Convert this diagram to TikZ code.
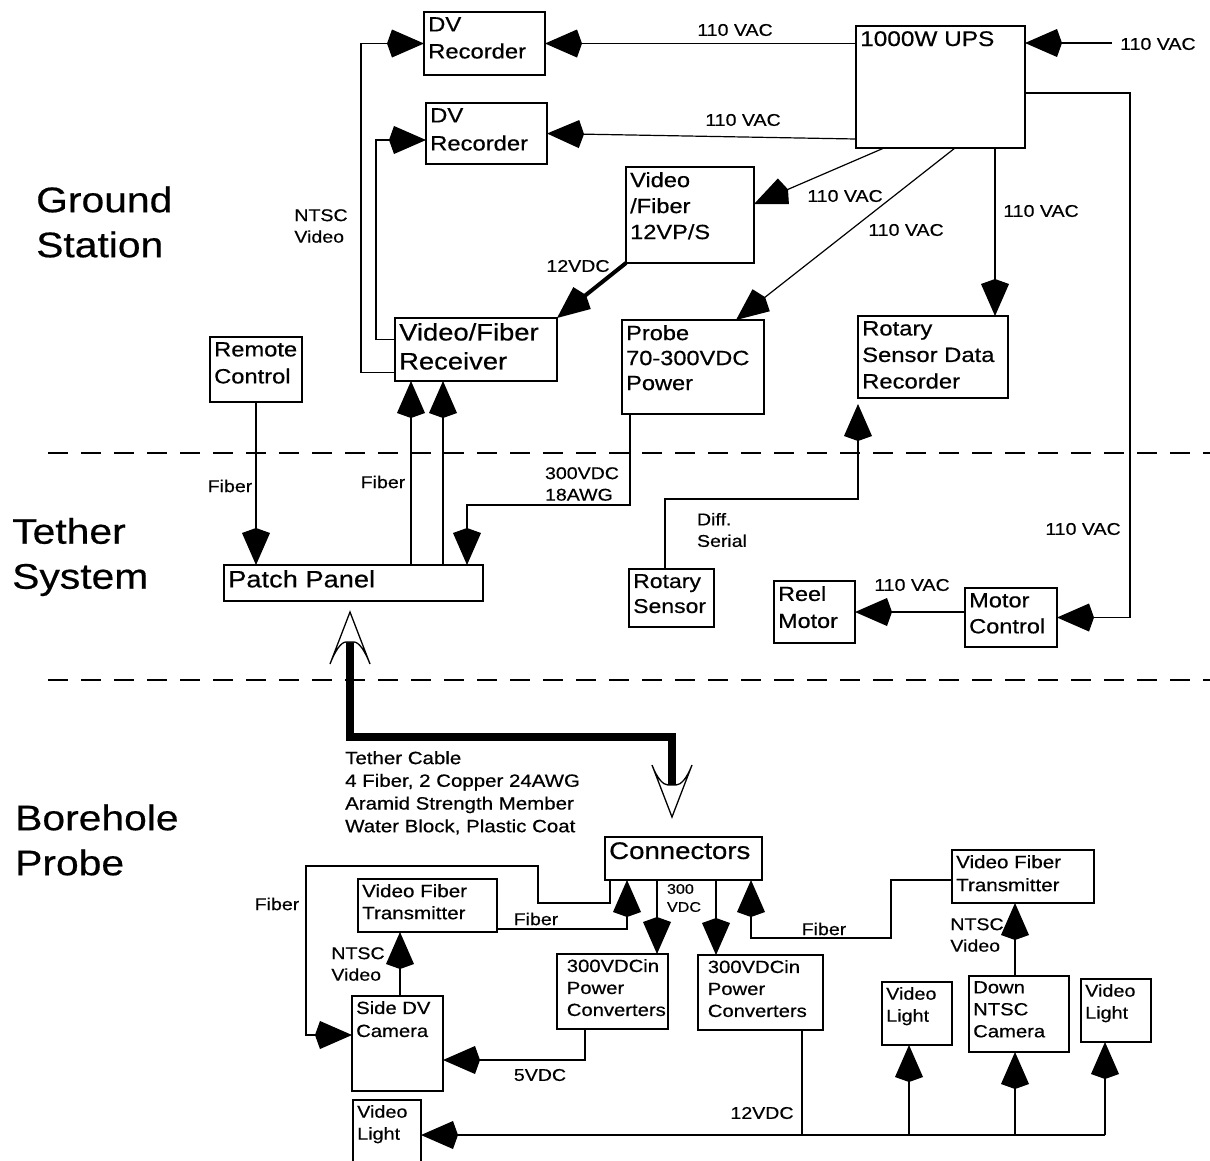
\documentclass[tikz,border=0pt]{standalone}
\usepackage{fontspec}
\setmainfont{Liberation Sans}[FakeStretch=1.15, FakeBold=0.5]
\usetikzlibrary{arrows.meta,calc}
\newcommand\fs[2]{\fontsize{#1}{#2}\selectfont}
% name, x1, y1, x2, y2, font size, baselineskip, text
\newcommand\bx[8]{%
  \node[boxs, minimum width={#4pt-#2pt}, minimum height={#5pt-#3pt}, anchor=north west] (#1) at (#2,#3) {};
  \node[btext, font=\fs{#6}{#7}] at (#1.north west) {#8};
}
\begin{document}
\begin{tikzpicture}[x=1pt,y=-1pt,
  boxs/.style={draw, line width=1.3pt, inner sep=0pt, outer sep=0pt},
  btext/.style={anchor=north west, align=left, inner xsep=4pt, inner ysep=5pt},
  lab/.style={font=\fs{17}{21.5}, inner sep=0pt, align=left},
  sec/.style={font=\fs{35.5}{45}, inner sep=0pt, align=left, anchor=west},
  conn/.style={line width=1.2pt},
  headtip/.tip={Kite[length=37pt,width=28pt,inset=5pt]},
  arr/.style={conn, -headtip},
  sepline/.style={line width=2.5pt, dash pattern=on 20pt off 13pt}]
\useasboundingbox (0,0) rectangle (1210,1160);
\fill[white] (0,0) rectangle (1210,1160);

% section labels
\node[sec] (gs) at (36,222) {Ground\\Station};
\node[sec] (ts) at (12,557) {Tether\\System};
\node[sec] (bp) at (15,840) {Borehole\\Probe};
\draw[sepline] (48,453) -- (1210,453);
\draw[sepline] (48,680) -- (1210,680);

% boxes
\bx{dv1}{424}{12}{545}{75}{20.7}{27}{DV\\Recorder}
\bx{dv2}{426}{103}{547}{164}{20.7}{28}{DV\\Recorder}
\bx{ups}{856}{26}{1025}{148}{21.2}{26}{1000W UPS}
\bx{vfps}{626}{167}{754}{263}{20.5}{26}{Video\\/Fiber\\12VP/S}
\bx{rcv}{395}{318}{557}{381}{23.8}{29}{Video/Fiber\\Receiver}
\bx{rc}{210}{337}{302}{402}{20.6}{27}{Remote\\Control}
\bx{ppw}{622}{320}{764}{414}{20.5}{25}{Probe\\70-300VDC\\Power}
\bx{rsdr}{858}{316}{1008}{398}{20.7}{26.5}{Rotary\\Sensor Data\\Recorder}
\bx{pp}{224}{565}{483}{601}{23.7}{28}{Patch Panel}
\bx{rs}{629}{569}{714}{627}{20}{25}{Rotary\\Sensor}
\bx{rm}{774}{581}{855}{643}{20.3}{27}{Reel\\Motor}
\bx{mc}{965}{588}{1057}{647}{20.5}{26}{Motor\\Control}
\bx{con}{605}{837}{762}{880}{24}{28}{Connectors}
\bx{vftl}{358}{879}{497}{932}{17.9}{22}{Video Fiber\\Transmitter}
\bx{sdv}{352}{996}{443}{1091}{17.6}{23}{Side DV\\Camera}
\bx{vla}{353}{1100}{421}{1166}{17.2}{22}{Video\\Light}
\bx{pca}{557}{954}{668}{1029}{17.6}{22}{\ 300VDCin\\\ Power\\\ Converters}
\bx{pcb}{698}{955}{823}{1030}{17.6}{22}{\ 300VDCin\\\ Power\\\ Converters}
\bx{vftr}{952}{850}{1094}{903}{17.9}{23}{Video Fiber\\Transmitter}
\bx{vlb}{882}{982}{952}{1045}{17.2}{22}{Video\\Light}
\bx{dnc}{969}{976}{1069}{1052}{17.6}{22}{Down\\NTSC\\Camera}
\bx{vlc}{1081}{979}{1151}{1042}{17.2}{22}{Video\\Light}
\draw[line width=2.6pt] (ups.north west) rectangle (ups.south east);
\draw[line width=2.3pt] (vfps.north west) rectangle (vfps.south east);
\draw[line width=2.1pt] (rc.north west) rectangle (rc.south east);

% ground station connectors
\draw[arr] (ups.west |- dv1.east) -- (dv1.east);
\node[lab] (l1) at (735,30) {110 VAC};
\draw[arr] ([yshift=9pt]ups.south west) -- (dv2.east);
\node[lab] (l2) at (743,120) {110 VAC};
\coordinate (acin) at (1112,43);
\draw[arr] (acin) -- (ups.east |- acin);
\node[lab, anchor=west] (l3) at (1120,44) {110 VAC};
\draw[arr] ([xshift=28pt]ups.south west) -- ([yshift=11pt]vfps.east);
\node[lab] (l4) at (845,196) {110 VAC};
\draw[arr] ([xshift=99pt]ups.south west) -- ([xshift=43pt]ppw.north);
\node[lab] (l5) at (906,230) {110 VAC};
\draw[arr] ([xshift=-30pt]ups.south east) -- ([xshift=-30pt]ups.south east |- rsdr.north);
\node[lab] (l6) at (1041,211) {110 VAC};
\draw[arr] ([yshift=-6pt]ups.east) -- ++(105,0) |- (mc.east);
\node[lab] (l7) at (1083,529) {110 VAC};
\draw[arr, line width=2pt] (mc.west |- rm.east) -- (rm.east);
\node[lab] (l8) at (912,585) {110 VAC};
\draw[line width=4pt, -headtip] (vfps.south west) -- (rcv.north east);
\node[lab] (l9) at (578,266) {12VDC};
\draw[arr] ([yshift=-23pt]rcv.west) -- ++(-34,0) |- (dv1.west);
\draw[arr] ([yshift=10pt]rcv.west) -- ++(-19,0) |- ([yshift=-6.5pt]dv2.west);
\node[lab] (l10) at (321,226) {NTSC\\Video};

% tether system connectors
\draw[arr] (rc.south) -- (rc.south |- pp.north);
\node[lab] (l11) at (230,486) {Fiber};
\draw[arr] ([xshift=57.5pt]pp.north) -- ([xshift=57.5pt]pp.north |- rcv.south);
\draw[arr] ([xshift=89.5pt]pp.north) -- ([xshift=89.5pt]pp.north |- rcv.south);
\node[lab] (l12) at (383,482) {Fiber};
\draw[arr] ([xshift=8pt]ppw.south west) -- ++(0,91) -| ([xshift=-16pt]pp.north east);
\node[lab] (l13) at (582,484) {300VDC\\18AWG};
\draw[arr] ([xshift=-6.5pt]rs.north) -- ++(0,-70) -| ([yshift=-6pt]rsdr.south west);
\node[lab] (l14) at (722,530) {Diff.\\Serial};

% tether cable
\coordinate (tA) at ([xshift=-3.5pt,yshift=-11pt]pp.south);
\coordinate (tB) at ([xshift=-11.5pt,yshift=20pt]con.north);
\draw[line width=8pt, line join=miter] ($(tA)+(0,30)$) -- ($(tA)+(0,125)$) -| ($(tB)+(0,-32)$);
\draw[fill=white, line width=1.3pt, line join=miter]
  (tA) -- ($(tA)+(-20,52)$) .. controls ($(tA)+(-15,39)$) and ($(tA)+(-9,30)$) .. ($(tA)+(-4,30)$)
  -- ($(tA)+(4,30)$) .. controls ($(tA)+(9,30)$) and ($(tA)+(15,39)$) .. ($(tA)+(20,52)$) -- cycle;
\draw[fill=white, line width=1.3pt, line join=miter]
  (tB) -- ($(tB)+(-20,-52)$) .. controls ($(tB)+(-15,-39)$) and ($(tB)+(-9,-32)$) .. ($(tB)+(-4,-32)$)
  -- ($(tB)+(4,-32)$) .. controls ($(tB)+(9,-32)$) and ($(tB)+(15,-39)$) .. ($(tB)+(20,-52)$) -- cycle;
\node[lab, anchor=north west, font=\fs{17.8}{22.7}] (l15) at (345,751) {Tether Cable\\4 Fiber, 2 Copper 24AWG\\Aramid Strength Member\\Water Block, Plastic Coat};

% borehole probe connectors
\draw[arr] ([xshift=-26.5pt]con.south) -- ([xshift=-26.5pt]con.south |- pca.north);
\draw[arr] ([xshift=32.5pt]con.south) -- ([xshift=32.5pt]con.south |- pcb.north);
\node[lab, font=\fs{14}{18}] (l16) at (684,898) {300\\VDC};
\draw[arr] ([yshift=-23.5pt]vftl.east) -| ([xshift=22pt]con.south west);
\node[lab] (l17) at (536,919) {Fiber};
\draw[arr] ([xshift=5pt]con.south west) -- ++(0,23) -- ++(-72,0) -- ++(0,-37) -- ++(-232,0) |- ([yshift=8.5pt]sdv.west);
\node[lab] (l18) at (277,904) {Fiber};
\draw[arr] ([xshift=2.5pt]sdv.north) -- ([xshift=2.5pt]sdv.north |- vftl.south);
\node[lab] (l19) at (358,964) {NTSC\\Video};
\draw[arr] ([xshift=28pt]pca.south west) |- ([yshift=-16.5pt]sdv.east);
\node[lab] (l20) at (540,1075) {5VDC};
\coordinate (busR) at (1105,1135);
\draw[arr] (busR) -- (vla.east |- busR);
\draw[conn] ([xshift=-21pt]pcb.south east) -- ([xshift=-21pt]pcb.south east |- busR);
\node[lab] (l21) at (762,1113) {12VDC};
\draw[arr] ([xshift=-8pt]vlb.south |- busR) -- ([xshift=-8pt]vlb.south);
\draw[arr] ([xshift=-4pt]dnc.south |- busR) -- ([xshift=-4pt]dnc.south);
\draw[arr] ([xshift=-11pt]vlc.south |- busR) -- ([xshift=-11pt]vlc.south);
\draw[arr] ([xshift=-4pt]dnc.north) -- ([xshift=-4pt]dnc.north |- vftr.south);
\node[lab] (l22) at (977,935) {NTSC\\Video};
\draw[arr] ([yshift=-3.5pt]vftr.west) -- ++(-61,0) -- ++(0,58) -| ([xshift=-11pt]con.south east);
\node[lab] (l23) at (824,929) {Fiber};
\end{tikzpicture}
\end{document}
